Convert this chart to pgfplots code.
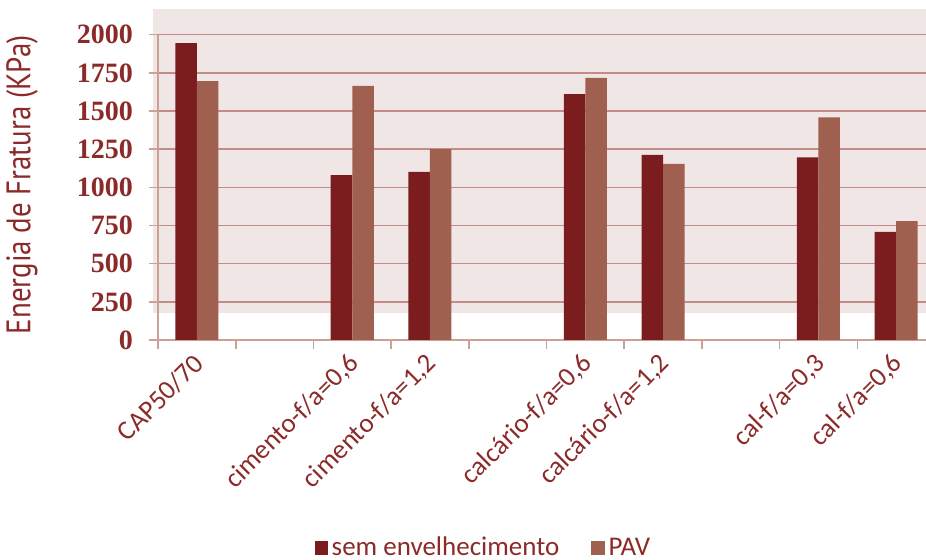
\documentclass[border=0pt]{standalone}
\usepackage{fontspec}
\setmainfont{Carlito}
\newfontfamily\tickfont{Liberation Serif}
\newfontfamily\titlefont{PT Sans}
\usepackage{pgfplots}
\usepackage{pgfplotstable}
\pgfplotsset{compat=1.18}

\definecolor{darkbar}{RGB}{123,28,31}
\definecolor{lightbar}{RGB}{160,96,80}
\definecolor{band}{RGB}{241,230,230}
\definecolor{gridc}{RGB}{196,140,134}
\definecolor{txt}{RGB}{140,42,42}
\definecolor{axisc}{RGB}{205,160,150}

% slot index, without ageing, after PAV ageing
\pgfplotstableread{
idx sem  pav
0   1945 1695
2   1080 1665
3   1102 1250
5   1610 1717
6   1213 1154
8   1196 1459
9   709  779
}\energia

\begin{document}
\begin{tikzpicture}
\begin{axis}[
  set layers, clip=false,
  scale only axis, width=384pt, height=152.65pt,
  xmin=-0.5, xmax=9.384, ymin=0, ymax=2000,
  axis x line*=bottom, axis y line*=left,
  axis line style={axisc, line width=0.8pt},
  tick align=outside, major tick length=4.5pt,
  tick style={axisc, line width=0.8pt},
  ytick={0,250,...,2000},
  ymajorgrids, grid style={gridc, line width=0.8pt},
  /pgf/number format/assume math mode=true,
  /pgf/number format/1000 sep={},
  yticklabel style={font=\tickfont\bfseries\fontsize{14}{16}\selectfont, text=txt, xshift=-4.5pt},
  xtick={-0.5,0.5,...,8.5}, xticklabels={},
  extra x ticks={0,...,9},
  extra x tick labels={CAP50/70,,{cimento-f/a=0,6},{cimento-f/a=1,2},,{calcário-f/a=0,6},{calcário-f/a=1,2},,{cal-f/a=0,3},{cal-f/a=0,6}},
  extra x tick style={major tick length=0pt,
    xticklabel style={rotate=45, anchor=east, xshift=-2.5pt, yshift=-7.5pt,
      font=\fontsize{13.5}{16}\selectfont, text=txt}},
  ylabel={\scalebox{0.85}[1]{Energia de Fratura (KPa)}},
  ylabel style={at={(axis description cs:-0.177,0.508)}, anchor=center,
    font=\titlefont\fontsize{17}{20}\selectfont, text=txt},
  legend columns=2,
  legend style={at={(axis description cs:0.425,-0.681)}, anchor=center,
    draw=none, fill=none, font=\fontsize{13.5}{16}\selectfont, text=txt,
    /tikz/every even column/.append style={column sep=14pt}},
  legend image code/.code={\fill[#1] (0pt,-3.3pt) rectangle (6.6pt,3.3pt);},
]
\begin{pgfonlayer}{axis background}
  \fill[band] (axis cs:-0.564,177) rectangle (axis cs:9.384,2166);
\end{pgfonlayer}
\addplot[ybar, bar width=0.277, bar shift=-0.1385, fill=darkbar, draw=none]
  table[x=idx, y=sem] {\energia};
\addlegendentry{sem envelhecimento}
\addplot[ybar, bar width=0.277, bar shift=0.1385, fill=lightbar, draw=none]
  table[x=idx, y=pav] {\energia};
\addlegendentry{PAV}
\end{axis}
\pgfresetboundingbox
\path[use as bounding box] (-79pt,-110pt) rectangle (384pt,170pt);
\end{tikzpicture}
\end{document}
